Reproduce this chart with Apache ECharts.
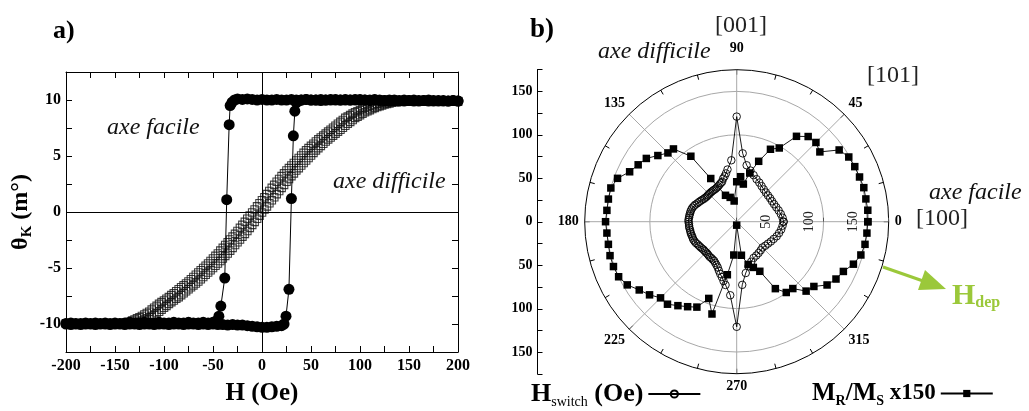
<!DOCTYPE html>
<html><head><meta charset="utf-8">
<script src="https://cdn.jsdelivr.net/npm/echarts@6/dist/echarts.min.js"></script>
<style>html,body{margin:0;padding:0;background:#fff}#c{width:1029px;height:411px}</style>
</head><body><div id="c"></div>
<script>
// ---------- panel a) : Kerr hysteresis loops ----------
const easyDown = [[200,9.9],[195,9.95],[190,9.9],[185,9.95],[180,9.9],[175,9.95],[170,10.0],[165,9.95],[160,9.95],[155,10.0],[150,9.95],[145,10.0],[140,9.95],[135,10.0],[130,10.0],[125,9.95],[120,10.0],[115,10.05],[110,10.0],[105,10.0],[100,10.05],[95,10.0],[90,10.0],[85,10.05],[80,10.0],[75,10.0],[70,10.05],[65,10.0],[60,9.95],[55,10.0],[50,10.0],[45,10.05],[40,10.0],[35,10.0],[30,10.05],[25,10.0],[20,10.0],[15,10.05],[10,10.0],[5,10.0],[0,10.05],[-5,10.0],[-10,10.05],[-15,10.1],[-20,10.05],[-25,10.1],[-28,10.0],[-30.5,9.8],[-32.5,9.5],[-33.5,7.8],[-36,1.1],[-38,-5.9],[-42,-8.4],[-44,-9.3],[-47,-9.75],[-50,-9.85],[-55,-9.9],[-60,-9.85],[-65,-9.9],[-70,-9.9],[-75,-9.85],[-80,-9.9],[-85,-9.9],[-90,-9.85],[-95,-9.9],[-100,-9.9],[-105,-9.85],[-110,-9.9],[-115,-9.9],[-120,-9.85],[-125,-9.9],[-130,-9.9],[-135,-9.85],[-140,-9.9],[-145,-9.95],[-150,-9.9],[-155,-9.95],[-160,-9.9],[-165,-9.95],[-170,-9.9],[-175,-9.95],[-180,-9.9],[-185,-9.95],[-190,-9.95],[-195,-9.9],[-200,-9.95]];
const easyUp = [[-200,-10.0],[-195,-10.05],[-190,-10.0],[-185,-10.05],[-180,-10.0],[-175,-10.0],[-170,-10.05],[-165,-10.0],[-160,-10.0],[-155,-10.05],[-150,-10.0],[-145,-10.0],[-140,-10.05],[-135,-10.0],[-130,-10.0],[-125,-10.05],[-120,-10.0],[-115,-10.0],[-110,-10.05],[-105,-10.0],[-100,-10.0],[-95,-10.05],[-90,-10.0],[-85,-10.0],[-80,-10.05],[-75,-10.0],[-70,-10.0],[-65,-10.05],[-60,-10.0],[-55,-10.05],[-50,-10.0],[-45,-10.05],[-40,-10.05],[-35,-10.1],[-30,-10.05],[-25,-10.1],[-20,-10.1],[-15,-10.15],[-10,-10.2],[-5,-10.25],[0,-10.3],[5,-10.3],[10,-10.25],[15,-10.2],[20,-10.15],[22.5,-10.0],[24.5,-9.3],[27.5,-6.9],[30,1.2],[32,6.8],[33.5,9.0],[35,9.75],[38,9.95],[40,10.0],[45,10.05],[50,10.0],[55,10.0],[60,10.05],[65,10.0],[70,10.0],[75,10.05],[80,10.0],[85,10.0],[90,10.0],[95,10.05],[100,10.0],[105,10.0],[110,9.95],[115,10.0],[120,9.95],[125,9.95],[130,9.9],[135,9.95],[140,9.9],[145,9.9],[150,9.95],[155,9.9],[160,9.9],[165,9.95],[170,9.9],[175,9.9],[180,9.95],[185,9.9],[190,9.9],[195,9.95],[200,9.9]];
const hardH = [-200,-195,-190,-185,-180,-175,-170,-165,-160,-155,-150,-145,-140,-135,-130,-125,-120,-115,-110,-105,-100,-95,-90,-85,-80,-75,-70,-65,-60,-55,-50,-45,-40,-35,-30,-25,-20,-15,-10,-5,0,5,10,15,20,25,30,35,40,45,50,55,60,65,70,75,80,85,90,95,100,105,110,115,120,125,130,135,140,145,150,155,160,165,170,175,180,185,190,195,200];
const hardUp = [-9.95,-10.0,-9.95,-10.0,-9.95,-10.0,-9.95,-9.95,-10.0,-9.95,-9.95,-9.95,-9.95,-9.95,
 -9.9,-9.8,-9.6,-9.4,-9.15,-8.9,-8.55,-8.2,-7.9,-7.6,-7.25,-6.9,-6.55,-6.2,-5.8,-5.4,-5.0,-4.6,-4.15,-3.7,-3.2,-2.7,-2.2,-1.7,-1.15,-0.6,
 -0.05,0.5,1.05,1.6,2.15,2.7,3.2,3.7,4.15,4.6,5.05,5.5,5.9,6.3,6.65,7.0,7.35,7.7,8.05,8.4,8.65,8.9,9.1,9.3,9.45,9.6,9.7,9.8,9.85,9.9,9.9,9.85,9.9,9.9,9.85,9.9,9.9,9.85,9.9,9.9,9.85];
const hardDown = [-9.95,-9.95,-10.0,-9.95,-9.95,-9.95,-10.0,-9.95,-9.95,-9.95,-9.95,-9.95,
 -9.9,-9.8,-9.6,-9.4,-9.15,-8.9,-8.55,-8.2,-7.9,-7.6,-7.25,-6.9,-6.55,-6.2,-5.8,-5.4,-5.0,-4.6,-4.15,-3.7,-3.2,-2.7,-2.2,-1.7,-1.15,-0.6,
 -0.05,0.5,1.05,1.6,2.15,2.7,3.2,3.7,4.15,4.6,5.05,5.5,5.9,6.3,6.65,7.0,7.35,7.7,8.05,8.4,8.65,8.9,9.1,9.3,9.45,9.6,9.7,9.8,9.85,9.9,9.9,9.85,9.9,9.9,9.85,9.9,9.9,9.85,9.9,9.9,9.85,9.9,9.9];
// intermediate measurement fields of the hard-axis loop
const hardHMid = [-137.5,-132.5,-127.5,-122.5,-117.5,-112.5,-107.5,-102.5,-97.5,-92.5,-87.5,-82.5,-77.5,-72.5,-67.5,-62.5,-57.5,-52.5,-47.5,-42.5,-37.5,-32.5,-27.5,-22.5,-17.5,-12.5,-7.5,-2.5,2.5,7.5,12.5,17.5,22.5,27.5,32.5,37.5,42.5,47.5,52.5,57.5,62.5,67.5,72.5,77.5,82.5,87.5,92.5,97.5,102.5,107.5,112.5,117.5,122.5,127.5,132.5,137.5];
const hardUpMid = [-9.95,-9.92,-9.85,-9.7,-9.5,-9.28,-9.02,-8.72,-8.38,-8.05,-7.75,-7.42,-7.08,-6.72,-6.38,-6.0,-5.6,-5.2,-4.8,-4.38,-3.92,-3.45,-2.95,-2.45,-1.95,-1.42,-0.88,-0.32,
 0.22,0.78,1.32,1.88,2.42,2.95,3.45,3.92,4.38,4.82,5.28,5.7,6.1,6.48,6.82,7.18,7.52,7.88,8.22,8.52,8.78,9.0,9.2,9.38,9.52,9.65,9.75,9.82];
const hardDownMid = [-9.85,-9.7,-9.5,-9.28,-9.02,-8.72,-8.38,-8.05,-7.75,-7.42,-7.08,-6.72,-6.38,-6.0,-5.6,-5.2,-4.8,-4.38,-3.92,-3.45,-2.95,-2.45,-1.95,-1.42,-0.88,-0.32,
 0.22,0.78,1.32,1.88,2.42,2.95,3.45,3.92,4.38,4.82,5.28,5.7,6.1,6.48,6.82,7.18,7.52,7.88,8.22,8.52,8.78,9.0,9.2,9.38,9.52,9.65,9.75,9.82,9.88,9.9];

// ---------- panel b) : polar plot ----------
const hsAngle = [0,5,10,15,20,25,30,35,40,45,50,55,60,65,70,75,80,85,90,95,
 100,102.5,105,107.5,110,112.5,115,117.5,120,122.5,125,127.5,130,132.5,135,137.5,140,142.5,145,147.5,150,152.5,155,157.5,160,162.5,165,167.5,170,172.5,175,177.5,180,182.5,185,187.5,190,192.5,195,197.5,200,202.5,205,207.5,210,212.5,215,217.5,220,222.5,225,227.5,230,232.5,235,237.5,240,242.5,245,247.5,250,252.5,255,257.5,260,
 265,270,275,280,285,290,295,300,305,310,315,320,325,330,335,340,345,350,355,360];
const hsR = [54,53,51.5,50,48.5,47.5,47,47,47,47.5,48.5,50,52,54,57,61,66,79,121,71,
 61,57,54,52,49,48,47,46,45.5,45,45,45,45,45,45,45,45,45.5,46,47,48,49,50,51.5,52.5,53.5,54,54.5,54.5,55,55,55.5,55.5,55,55,55,54.5,54.5,54.5,54,54,54,53.5,53,52,51.5,51,50.5,50,50,50,50,50.5,51,51,51.5,52,53.5,55,57,60,63,66,70,74,
 85,121,73,60,53,49,46,45,44,43,42,43,44,45.5,47,49,50.5,52,53,54];
const msAngle = [0,5,10,15,20,25,30,35,40,45,50,55,60,65,70,75,80,85,90,97,105,113,121,125,131,135,140,145,150,155,160,165,170,175,180,185,190,195,200,205,210,215,220,225,230,235,240,245,250,255,260,265,270,278,285,290,295,300,305,310,315,320,325,330,335,340,345,350,355,360];
const msR = [151,151.5,151,151.5,150.5,150,149,144,125,129,128,120,98,92,74,58,44,52,46,24,29,33,58,92,111,112,118.5,127,131,136,146,150,150,150,151,150,150,151,151,150,145.5,137,131,124,124,118,113,108.5,94,110,62,38.5,4,39,51,56,63,89,99.5,100.5,113,116,127,132,135.5,143,148,150,150.5,151];
const angleTicks = [0,45,90,135,180,225,270,315];
const radiusTicks = [50,100,150];

const serif = '"Liberation Serif","Times New Roman",serif';
const green = '#9bc83a';
const hsData = hsAngle.map((a,i)=>[hsR[i],a]);
const msData = msAngle.map((a,i)=>[msR[i],a]);
const upPairs = hardH.map((h,i)=>[h,hardUp[i]]).concat(hardHMid.map((h,i)=>[h,hardUpMid[i]]));
const downPairs = hardH.map((h,i)=>[h,hardDown[i]]).concat(hardHMid.map((h,i)=>[h,hardDownMid[i]]));

const chart = echarts.init(document.getElementById('c'));
const boxAxis = (pos, extra) => Object.assign({
  type:'value', position:pos, gridIndex:0,
  axisLine:{show:true,onZero:false,lineStyle:{color:'#000',width:1}},
  axisTick:{show:true,inside:true,length:6,lineStyle:{color:'#000'}},
  splitLine:{show:false}
}, extra);
const squareStyle = {color:'rgba(0,0,0,0)',borderColor:'#111',borderWidth:1.1};

const graphics = [
  {type:'text',x:53,y:31,style:{text:'a)',font:'bold 26px '+serif,fill:'#000',textVerticalAlign:'middle'}},
  {type:'text',x:530,y:30,style:{text:'b)',font:'bold 27px '+serif,fill:'#000',textVerticalAlign:'middle'}},
  {type:'text',x:107,y:128,style:{text:'axe facile',font:'italic 24px '+serif,fill:'#111',textVerticalAlign:'middle'}},
  {type:'text',x:333,y:182,style:{text:'axe difficile',font:'italic 24px '+serif,fill:'#111',textVerticalAlign:'middle'}},
  {type:'text',x:598,y:52,style:{text:'axe difficile',font:'italic 24px '+serif,fill:'#111',textVerticalAlign:'middle'}},
  {type:'text',x:929,y:193,style:{text:'axe facile',font:'italic 24px '+serif,fill:'#111',textVerticalAlign:'middle'}},
  {type:'text',x:741,y:26,style:{text:'[001]',font:'24px '+serif,fill:'#222',textAlign:'center',textVerticalAlign:'middle'}},
  {type:'text',x:867,y:76,style:{text:'[101]',font:'24px '+serif,fill:'#222',textVerticalAlign:'middle'}},
  {type:'text',x:916,y:219,style:{text:'[100]',font:'24px '+serif,fill:'#222',textVerticalAlign:'middle'}},
  {type:'line',shape:{x1:883,y1:267,x2:926,y2:282},style:{stroke:green,lineWidth:3}},
  {type:'polygon',shape:{points:[[925,270],[946,289],[918,290]]},style:{fill:green}},
  {type:'text',x:952,y:296,style:{text:'{h|H}{d|dep}',textVerticalAlign:'middle',
    rich:{h:{font:'bold 30px '+serif,fill:green,lineHeight:30},
          d:{font:'bold 16px '+serif,fill:green,lineHeight:14,verticalAlign:'bottom'}}}}
];

chart.setOption({
  animation:false,
  backgroundColor:'#fff',
  grid:[
    {left:66, top:72, width:392, height:289},
    {left:537.5, top:69.5, width:10, height:304.5}
  ],
  xAxis:[
    boxAxis('bottom',{min:-200,max:200,interval:50,
      minorTick:{show:true,splitNumber:2,length:6,lineStyle:{color:'#000'}},
      axisLabel:{margin:6,color:'#000',fontFamily:serif,fontWeight:'bold',fontSize:16},
      name:'H (Oe)',nameLocation:'middle',nameGap:29,
      nameTextStyle:{fontFamily:serif,fontWeight:'bold',fontSize:25,color:'#000'}}),
    boxAxis('top',{min:-200,max:200,interval:50,
      minorTick:{show:true,splitNumber:2,length:6,lineStyle:{color:'#000'}},
      axisLabel:{show:false}}),
    {type:'value',gridIndex:1,show:false,min:0,max:1}
  ],
  yAxis:[
    boxAxis('left',{min:-12.5,max:12.5,interval:2.5,
      axisLabel:{margin:5,color:'#000',fontFamily:serif,fontWeight:'bold',fontSize:16,
        formatter:v=>Math.abs(v%5)<1e-9 ? String(v) : ''},
      name:'{a|θ}{k|K}{a| (m°)}',nameLocation:'middle',nameGap:31,
      nameTextStyle:{color:'#000',rich:{
        a:{fontFamily:serif,fontWeight:'bold',fontSize:24,lineHeight:28,color:'#000'},
        k:{fontFamily:serif,fontWeight:'bold',fontSize:15,lineHeight:10,verticalAlign:'bottom',color:'#000'}}}}),
    boxAxis('right',{min:-12.5,max:12.5,interval:2.5,axisLabel:{show:false}}),
    {type:'value',gridIndex:1,position:'left',min:-175,max:175,interval:25,
      axisLine:{show:true,lineStyle:{color:'#000',width:1}},
      axisTick:{show:true,inside:true,length:5,lineStyle:{color:'#000'}},
      splitLine:{show:false},
      axisLabel:{margin:5,color:'#000',fontFamily:serif,fontWeight:'bold',fontSize:14,
        formatter:v=>Math.abs(v%50)<1e-9 ? String(Math.abs(v)) : ''}}
  ],
  polar:{center:[736.7,221.7],radius:152},
  angleAxis:{type:'value',min:0,max:360,interval:45,startAngle:0,clockwise:false,
    axisLine:{show:true,lineStyle:{color:'#000',width:1}},
    axisTick:{show:true,inside:true,length:5,lineStyle:{color:'#000'}},
    minorTick:{show:true,splitNumber:3,length:5,lineStyle:{color:'#000'}},
    splitLine:{show:true,lineStyle:{color:'#a8a8a8',width:1}},
    axisLabel:{margin:6,color:'#000',fontFamily:serif,fontWeight:'bold',fontSize:14,
      formatter:v=>angleTicks.indexOf(v)<0 ? '' : (v===90?'{t|90}':String(v)),
      rich:{t:{fontFamily:serif,fontWeight:'bold',fontSize:14,color:'#000',padding:[0,0,8,0]}}}
  },
  radiusAxis:{type:'value',min:0,max:175,interval:50,
    axisLine:{show:false},
    axisTick:{show:true,length:4,lineStyle:{color:'#555'}},
    splitLine:{show:true,lineStyle:{color:['transparent','transparent','#a8a8a8','#a8a8a8'],width:1}},
    axisLabel:{show:false}
  },
  legend:[
    {data:['Hswitch'],left:531,top:381,padding:0,itemWidth:52,itemHeight:9,align:'right',
      formatter:()=>'{b|H}{s|switch}{b| (Oe)}',
      textStyle:{color:'#000',rich:{
        b:{fontFamily:serif,fontWeight:'bold',fontSize:26,lineHeight:30,color:'#000'},
        s:{fontFamily:serif,fontSize:14,lineHeight:8,verticalAlign:'bottom',color:'#000'}}}},
    {data:['MR'],left:812,top:381,padding:0,itemWidth:52,itemHeight:9,align:'right',
      formatter:()=>'{b|M}{s|R}{b|/M}{s|S}{c| x150}',
      textStyle:{color:'#000',rich:{
        b:{fontFamily:serif,fontWeight:'bold',fontSize:25,lineHeight:30,color:'#000'},
        c:{fontFamily:serif,fontWeight:'bold',fontSize:23,lineHeight:30,color:'#000'},
        s:{fontFamily:serif,fontWeight:'bold',fontSize:14,lineHeight:8,verticalAlign:'bottom',color:'#000'}}}}
  ],
  series:[
    {type:'scatter',xAxisIndex:0,yAxisIndex:0,data:downPairs,symbol:'rect',symbolSize:7.5,itemStyle:squareStyle},
    {type:'scatter',xAxisIndex:0,yAxisIndex:0,data:upPairs,symbol:'rect',symbolSize:7.5,itemStyle:squareStyle},
    {type:'line',xAxisIndex:0,yAxisIndex:0,data:easyDown,symbol:'circle',symbolSize:11,
      itemStyle:{color:'#000'},lineStyle:{color:'#000',width:1},
      markLine:{silent:true,symbol:'none',label:{show:false},
        lineStyle:{color:'#000',width:1,type:'solid'},data:[{xAxis:0},{yAxis:0}]}},
    {type:'line',xAxisIndex:0,yAxisIndex:0,data:easyUp,symbol:'circle',symbolSize:11,
      itemStyle:{color:'#000'},lineStyle:{color:'#000',width:1}},
    {name:'Hswitch',type:'line',coordinateSystem:'polar',data:hsData,symbol:'circle',symbolSize:7.5,
      itemStyle:{color:'rgba(255,255,255,0)',borderColor:'#000',borderWidth:0.9},
      lineStyle:{color:'#000',width:0.9}},
    {name:'MR',type:'line',coordinateSystem:'polar',data:msData,symbol:'rect',symbolSize:7.5,
      itemStyle:{color:'#000'},lineStyle:{color:'#000',width:0.9}}
  ],
  graphic:graphics
});

// radius tick labels: rotated, placed just inside each tick, using the polar scale
const radiusLabels = radiusTicks.map(r=>{
  const p = chart.convertToPixel({polarIndex:0},[r,0]);
  return {type:'text',x:p[0]-14,y:p[1],rotation:Math.PI/2,z:10,
    style:{text:String(r),font:'14px '+serif,fill:'#222',textAlign:'center',textVerticalAlign:'middle'}};
});
chart.setOption({graphic:graphics.concat(radiusLabels)});
</script></body></html>
